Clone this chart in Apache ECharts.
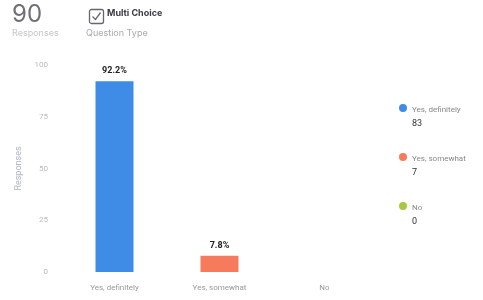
<!DOCTYPE html>
<html>
<head>
<meta charset="utf-8">
<script src="https://cdn.jsdelivr.net/npm/echarts@6/dist/echarts.min.js"></script>
<style>
  html, body { margin: 0; padding: 0; background: #fff; }
  #main { width: 483px; height: 300px; }
</style>
</head>
<body>
<div id="main"></div>
<script>
// 数据
const categories = ['Yes, definitely', 'Yes, somewhat', 'No'];
const percents = [92.2, 7.8, 0];
const counts = [83, 7, 0];
const colors = ['#3f8ce6', '#f57b5c', '#a6c93f'];
const yTicks = { min: 0, max: 100, interval: 25 };
const totalResponses = 90;

const chart = echarts.init(document.getElementById('main'));

// 每个类别一个系列，堆叠到同一位置，方便图例
const series = categories.map((name, i) => ({
    name: name,
    type: 'bar',
    stack: 'all',
    barWidth: 38,
    itemStyle: { color: colors[i] },
    label: {
        show: true,
        position: 'top',
        distance: 6,
        color: '#222',
        fontWeight: 'bold',
        fontSize: 9,
        fontFamily: 'Roboto',
        formatter: (p) => (p.value ? p.value + '%' : '')
    },
    data: categories.map((c, j) => (j === i ? percents[i] : '-'))
}));

const option = {
    animation: false,
    title: [{
        text: String(totalResponses),
        left: 12,
        top: 3,
        padding: 0,
        textStyle: { fontSize: 24, fontWeight: 'normal', color: '#6f6f78', fontFamily: 'Inter' }
    }, {
        text: 'Responses',
        left: 12,
        top: 29,
        padding: 0,
        textStyle: { fontSize: 9, fontWeight: 'normal', color: '#c4c4cc', fontFamily: 'Inter' }
    }, {
        text: 'Question Type',
        left: 86,
        top: 29,
        padding: 0,
        textStyle: { fontSize: 9, fontWeight: 'normal', color: '#a8a8b0', fontFamily: 'Inter' }
    }, {
        text: 'Multi Choice',
        left: 107,
        top: 9,
        padding: 0,
        textStyle: { fontSize: 9, fontWeight: 'bold', color: '#3a3a44', fontFamily: 'Inter' }
    }],
    graphic: [{
        type: 'rect',
        left: 87,
        top: 7,
        shape: { width: 14, height: 14, r: 2 },
        style: { fill: 'none', stroke: '#66666e', lineWidth: 1.3 }
    }, {
        type: 'polyline',
        left: 90,
        top: 10,
        shape: { points: [[0, 4], [3, 7], [8, 0]] },
        style: { fill: 'none', stroke: '#66666e', lineWidth: 1.3 }
    }],
    legend: {
        orient: 'vertical',
        left: 394,
        top: 99,
        itemGap: 24,
        itemWidth: 8,
        itemHeight: 28,
        icon: 'path://M4,3 A4,4 0 1,1 4,11 A4,4 0 1,1 4,3 Z M4,27.5 L4,28',
        selectedMode: false,
        data: categories,
        formatter: (name) => {
            const i = categories.indexOf(name);
            return '{n|' + name + '}\n{c|' + counts[i] + '}';
        },
        textStyle: {
            rich: {
                n: { fontSize: 8, color: '#888', fontFamily: 'Roboto', lineHeight: 14 },
                c: { fontSize: 9, color: '#333', fontFamily: 'Roboto', lineHeight: 14 }
            }
        }
    },
    grid: {
        left: 62,
        right: 106,
        top: 65,
        bottom: 28
    },
    xAxis: {
        type: 'category',
        data: categories,
        axisLine: { show: false },
        axisTick: { show: false },
        axisLabel: { color: '#999', fontSize: 8, margin: 12, fontFamily: 'Roboto' }
    },
    yAxis: {
        type: 'value',
        min: yTicks.min,
        max: yTicks.max,
        interval: yTicks.interval,
        name: 'Responses',
        nameLocation: 'middle',
        nameGap: 34,
        nameTextStyle: { color: '#b0b4c8', fontSize: 9, fontFamily: 'Roboto' },
        axisLine: { show: false },
        axisTick: { show: false },
        splitLine: { show: false },
        axisLabel: { color: '#bbb', fontSize: 8, margin: 14, fontFamily: 'Roboto' }
    },
    series: series
};

chart.setOption(option);
</script>
</body>
</html>
